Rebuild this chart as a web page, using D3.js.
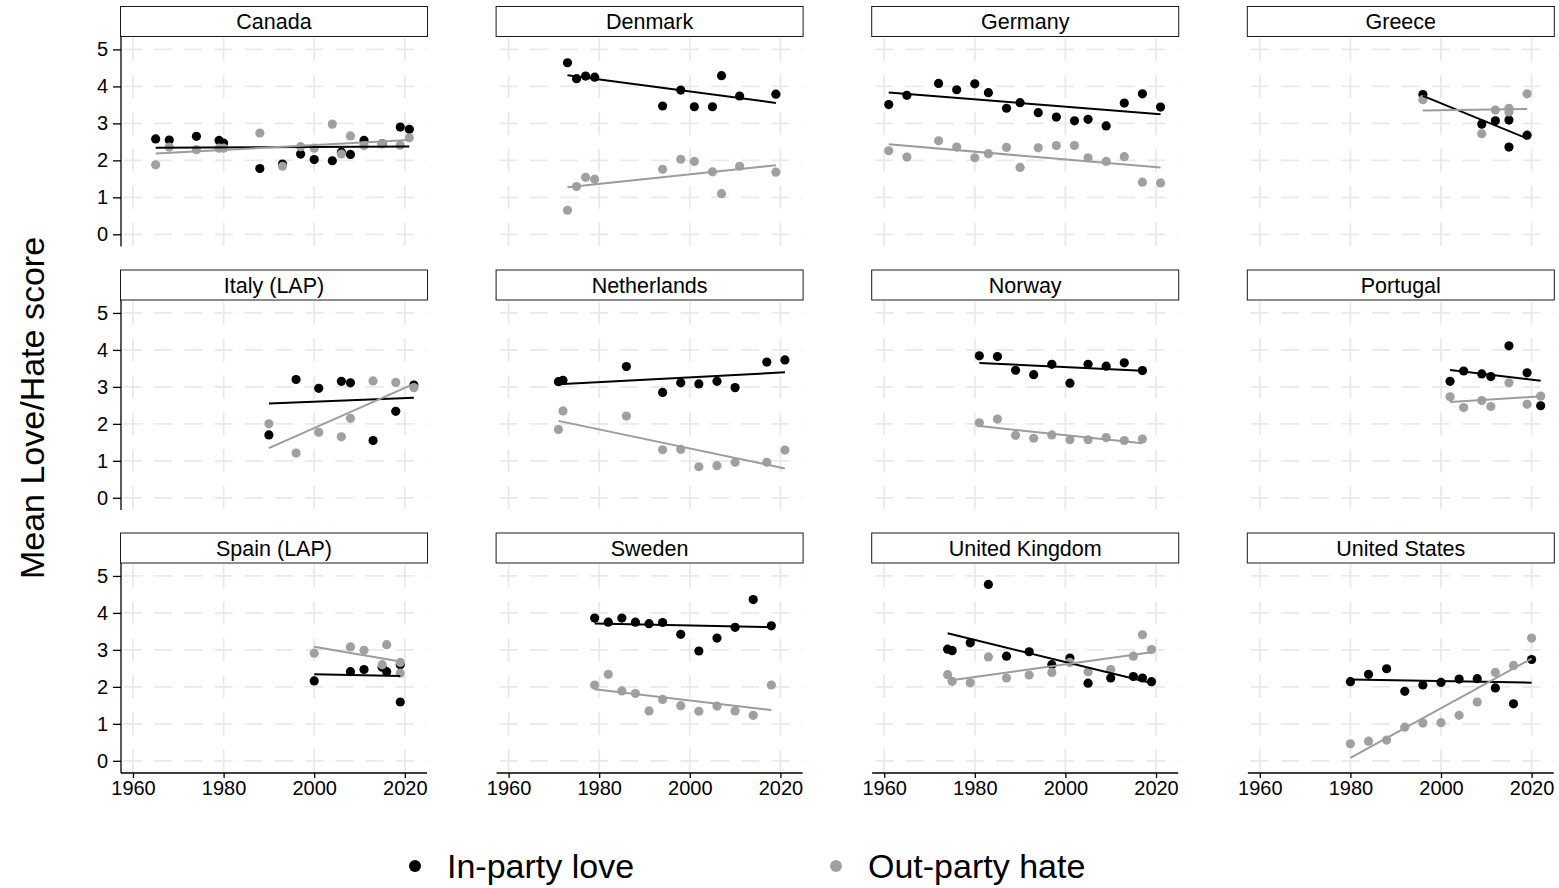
<!DOCTYPE html>
<html>
<head>
<meta charset="utf-8">
<script src="https://cdn.jsdelivr.net/npm/d3@7"></script>
<style>
  body { margin: 0; background: #fff; }
  svg { display: block; }
  text { font-family: "Liberation Sans", Arial, sans-serif; fill: #000; }
</style>
</head>
<body>
<svg id="chart" width="1559" height="888"></svg>
<script>
// Panel order (left to right, top to bottom)
const countries = ["Canada", "Denmark", "Germany", "Greece",
                   "Italy (LAP)", "Netherlands", "Norway", "Portugal",
                   "Spain (LAP)", "Sweden", "United Kingdom", "United States"];

// Survey years and mean scores per country
const canadaYears = [1965, 1968, 1974, 1979, 1980, 1988, 1993, 1997, 2000, 2004, 2006, 2008, 2011, 2015, 2019, 2021];
const canadaLove  = [2.58, 2.55, 2.65, 2.54, 2.47, 1.78, 1.90, 2.17, 2.02, 1.99, 2.22, 2.16, 2.54, 2.45, 2.90, 2.84];
const canadaHate  = [1.88, 2.36, 2.29, 2.33, 2.33, 2.74, 1.84, 2.37, 2.33, 2.98, 2.17, 2.66, 2.40, 2.45, 2.41, 2.61];

const denmarkYears = [1973, 1975, 1977, 1979, 1994, 1998, 2001, 2005, 2007, 2011, 2019];
const denmarkLove  = [4.64, 4.21, 4.28, 4.25, 3.47, 3.90, 3.45, 3.45, 4.29, 3.74, 3.79];
const denmarkHate  = [0.65, 1.29, 1.54, 1.49, 1.76, 2.03, 1.97, 1.69, 1.10, 1.84, 1.68];

const germanyYears = [1961, 1965, 1972, 1976, 1980, 1983, 1987, 1990, 1994, 1998, 2002, 2005, 2009, 2013, 2017, 2021];
const germanyLove  = [3.51, 3.76, 4.08, 3.91, 4.07, 3.83, 3.41, 3.56, 3.29, 3.17, 3.07, 3.11, 2.93, 3.55, 3.80, 3.44];
const germanyHate  = [2.26, 2.09, 2.53, 2.36, 2.07, 2.18, 2.35, 1.81, 2.34, 2.40, 2.40, 2.07, 1.97, 2.10, 1.41, 1.39];

const greeceYears = [1996, 2009, 2012, 2015, 2015, 2019];
const greeceLove  = [3.78, 2.98, 3.07, 3.09, 2.36, 2.68];
const greeceHate  = [3.64, 2.72, 3.36, 3.41, 3.31, 3.80];

const italyYears = [1990, 1996, 2001, 2006, 2008, 2013, 2018, 2022];
const italyLove  = [1.70, 3.20, 2.96, 3.15, 3.11, 1.55, 2.34, 3.05];
const italyHate  = [2.00, 1.21, 1.77, 1.65, 2.15, 3.16, 3.12, 2.98];

const netherlandsYears = [1971, 1972, 1986, 1994, 1998, 2002, 2006, 2010, 2017, 2021];
const netherlandsLove  = [3.14, 3.18, 3.55, 2.85, 3.11, 3.08, 3.15, 2.98, 3.67, 3.73];
const netherlandsHate  = [1.85, 2.35, 2.21, 1.30, 1.31, 0.84, 0.87, 0.96, 0.96, 1.29];

const norwayYears = [1981, 1985, 1989, 1993, 1997, 2001, 2005, 2009, 2013, 2017];
const norwayLove  = [3.84, 3.82, 3.45, 3.33, 3.61, 3.10, 3.61, 3.56, 3.65, 3.44];
const norwayHate  = [2.03, 2.13, 1.69, 1.61, 1.70, 1.57, 1.57, 1.63, 1.55, 1.59];

const portugalYears = [2002, 2005, 2009, 2011, 2015, 2019, 2022];
const portugalLove  = [3.15, 3.43, 3.35, 3.28, 4.11, 3.38, 2.49];
const portugalHate  = [2.73, 2.44, 2.63, 2.47, 3.11, 2.53, 2.75];

const spainYears = [2000, 2008, 2011, 2015, 2016, 2019, 2019];
const spainLove  = [2.16, 2.41, 2.47, 2.53, 2.41, 2.60, 1.59];
const spainHate  = [2.91, 3.08, 2.99, 2.60, 3.14, 2.66, 2.37];

const swedenYears = [1979, 1982, 1985, 1988, 1991, 1994, 1998, 2002, 2006, 2010, 2014, 2018];
const swedenLove  = [3.86, 3.75, 3.86, 3.75, 3.71, 3.74, 3.42, 2.97, 3.32, 3.61, 4.36, 3.65];
const swedenHate  = [2.05, 2.34, 1.89, 1.82, 1.35, 1.66, 1.49, 1.34, 1.48, 1.35, 1.23, 2.05];

const ukYears = [1974, 1975, 1979, 1983, 1987, 1992, 1997, 2001, 2005, 2010, 2015, 2017, 2019];
const ukLove  = [3.02, 2.98, 3.19, 4.77, 2.83, 2.95, 2.60, 2.78, 2.10, 2.24, 2.28, 2.24, 2.14];
const ukHate  = [2.33, 2.15, 2.11, 2.81, 2.24, 2.32, 2.39, 2.66, 2.41, 2.47, 2.83, 3.41, 3.01];

const usYears = [1980, 1984, 1988, 1992, 1996, 2000, 2004, 2008, 2012, 2016, 2020];
const usLove  = [2.14, 2.34, 2.49, 1.88, 2.05, 2.12, 2.21, 2.22, 1.97, 1.54, 2.74];
const usHate  = [0.46, 0.53, 0.56, 0.91, 1.02, 1.03, 1.23, 1.59, 2.39, 2.58, 3.32];

// Axis ticks
const xTicks = [1960, 1980, 2000, 2020];
const yTicks = [0, 1, 2, 3, 4, 5];

const seriesNames = ["In-party love", "Out-party hate"];
const seriesColors = ["#000000", "#a0a0a0"];

const panelTable = [
  [canadaYears, canadaLove, canadaHate],
  [denmarkYears, denmarkLove, denmarkHate],
  [germanyYears, germanyLove, germanyHate],
  [greeceYears, greeceLove, greeceHate],
  [italyYears, italyLove, italyHate],
  [netherlandsYears, netherlandsLove, netherlandsHate],
  [norwayYears, norwayLove, norwayHate],
  [portugalYears, portugalLove, portugalHate],
  [spainYears, spainLove, spainHate],
  [swedenYears, swedenLove, swedenHate],
  [ukYears, ukLove, ukHate],
  [usYears, usLove, usHate]
].map(([years, love, hate], i) => ({
  name: countries[i],
  series: [love, hate].map(vals => years.map((yr, j) => ({ year: yr, value: vals[j] })))
}));

// Ordinary least squares fit over the points of one series
function linearFit(points) {
  const mx = d3.mean(points, p => p.year);
  const my = d3.mean(points, p => p.value);
  const sxy = d3.sum(points, p => (p.year - mx) * (p.value - my));
  const sxx = d3.sum(points, p => (p.year - mx) ** 2);
  const slope = sxy / sxx;
  const [x0, x1] = d3.extent(points, p => p.year);
  return [x0, x1].map(x => ({ year: x, value: my + slope * (x - mx) }));
}

// Layout
const nCols = 4;
const panelW = 306, panelH = 210, stripH = 30;
const colLeft = c => 121 + c * 375.6;
const rowTop = [36.5, 300, 563];

const x = d3.scaleLinear().domain([1957.35, 2024.9]).range([0, panelW]);
const y = d3.scaleLinear().domain([-0.33, 5.35]).range([panelH, 0]);

const svg = d3.select("#chart");
const gridColor = "#e9e9e9";

// Dash patterns keyed to the tick spacing so a dash crosses every grid intersection
const xStep = x(1980) - x(1960);
const hPeriod = xStep / 3, hDash = 18;
const vPeriod = y(0) - y(1), vDash = 23;

panelTable.forEach((panel, i) => {
  const col = i % nCols, row = Math.floor(i / nCols);
  const g = svg.append("g").attr("transform", `translate(${colLeft(col)},${rowTop[row]})`);

  // grid
  g.append("g").selectAll("line").data(yTicks).join("line")
    .attr("x1", 0).attr("x2", panelW)
    .attr("y1", d => y(d)).attr("y2", d => y(d))
    .attr("stroke", gridColor).attr("stroke-width", 1.8)
    .attr("stroke-dasharray", `${hDash} ${hPeriod - hDash}`)
    .attr("stroke-dashoffset", -(x(1960) - hDash / 2) % hPeriod);
  g.append("g").selectAll("line").data(xTicks).join("line")
    .attr("x1", d => x(d)).attr("x2", d => x(d))
    .attr("y1", 0).attr("y2", panelH)
    .attr("stroke", gridColor).attr("stroke-width", 1.8)
    .attr("stroke-dasharray", `${vDash} ${vPeriod - vDash}`)
    .attr("stroke-dashoffset", -(y(5) - vDash / 2));

  // strip header
  g.append("rect")
    .attr("x", -0.5).attr("y", -stripH)
    .attr("width", panelW + 1).attr("height", stripH)
    .attr("fill", "#fff").attr("stroke", "#1a1a1a").attr("stroke-width", 1);
  g.append("text")
    .attr("x", panelW / 2).attr("y", -stripH / 2)
    .attr("dy", "0.36em").attr("text-anchor", "middle")
    .style("font-size", "21.5px")
    .text(panel.name);

  // y axis on the first column
  if (col === 0) {
    const ya = g.append("g").call(d3.axisLeft(y).tickValues(yTicks).tickFormat(d3.format("d")).tickSize(8).tickPadding(5));
    ya.select(".domain").attr("stroke", "#000").attr("stroke-width", 1.3)
      .attr("d", `M0,0V${panelH}`);
    ya.selectAll(".tick line").attr("stroke", "#000").attr("stroke-width", 1.3);
    ya.selectAll(".tick text").style("font-size", "20px").style("font-family", "Liberation Sans, Arial, sans-serif");
  }
  // x axis on the bottom row
  if (row === 2) {
    const xa = g.append("g").attr("transform", `translate(0,${panelH})`)
      .call(d3.axisBottom(x).tickValues(xTicks).tickFormat(d3.format("d")).tickSize(5).tickPadding(3));
    xa.select(".domain").attr("stroke", "#000").attr("stroke-width", 1.3)
      .attr("d", `M0,0H${panelW}`);
    xa.selectAll(".tick line").attr("stroke", "#000").attr("stroke-width", 1.3);
    xa.selectAll(".tick text").style("font-size", "20px").style("font-family", "Liberation Sans, Arial, sans-serif");
  }

  // points: love first, hate drawn over it
  panel.series.forEach((pts, s) => {
    g.append("g").selectAll("circle").data(pts).join("circle")
      .attr("cx", d => x(d.year)).attr("cy", d => y(d.value))
      .attr("r", 4.6).attr("fill", seriesColors[s]);
  });
  // linear fits
  const line = d3.line().x(d => x(d.year)).y(d => y(d.value));
  panel.series.forEach((pts, s) => {
    g.append("path").datum(linearFit(pts))
      .attr("d", line).attr("fill", "none")
      .attr("stroke", s === 0 ? "#000" : "#9c9c9c").attr("stroke-width", 2);
  });
});

// y axis title
svg.append("text")
  .attr("transform", "translate(44,408) rotate(-90)")
  .attr("text-anchor", "middle")
  .style("font-size", "34px")
  .text("Mean Love/Hate score");

// legend
const legendX = [415, 836];
const legend = svg.append("g");
seriesNames.forEach((name, s) => {
  legend.append("circle").attr("cx", legendX[s]).attr("cy", 866).attr("r", 6).attr("fill", seriesColors[s]);
  legend.append("text").attr("x", legendX[s] + 32).attr("y", 878)
    .style("font-size", "34px").text(name);
});
</script>
</body>
</html>
